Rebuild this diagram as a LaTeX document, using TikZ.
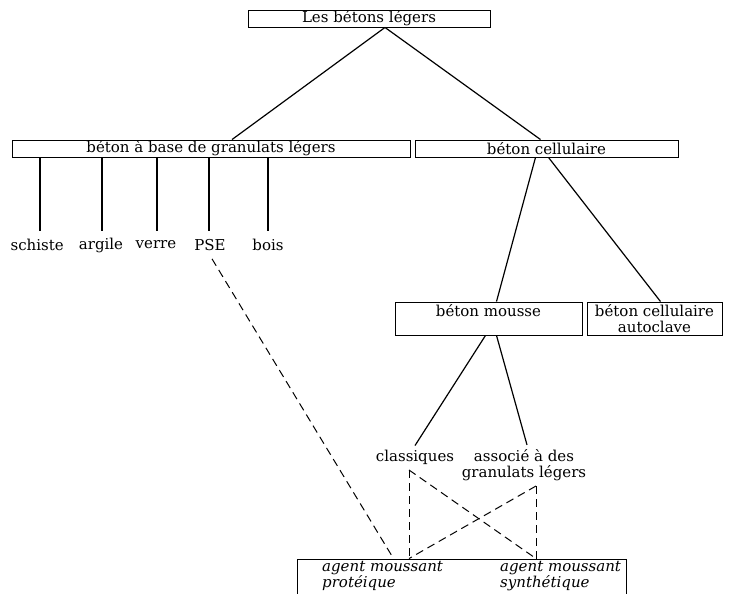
\documentclass[tikz,border=0pt]{standalone}
\usepackage{fontspec}
\setmainfont{DejaVu Serif}
\usetikzlibrary{calc}
\begin{document}
\begin{tikzpicture}[x=1pt,y=-1pt,
  box/.style={draw,line width=0.9pt,inner sep=0pt,font=\fontsize{15}{17}\selectfont},
  lbl/.style={inner sep=0pt,font=\fontsize{15}{16.5}\selectfont,align=center},
  itl/.style={inner sep=0pt,font=\fontsize{15}{16}\selectfont\itshape,align=left,anchor=north west},
  link/.style={line width=1.2pt},
  dlink/.style={line width=1pt,dash pattern=on 8pt off 5pt}]
\useasboundingbox (0,0) rectangle (729,594);
% boxes
\node[box,minimum width=242pt,minimum height=17pt] (top) at (369,18.5) {Les bétons légers};
\node[box,minimum width=398pt,minimum height=17pt] (gran) at (211,148.5) {béton à base de granulats légers};
\node[box,minimum width=263pt,minimum height=17pt] (cell) at (546.5,148.5) {béton cellulaire};
\node[box,minimum width=187pt,minimum height=33pt,
  label={[lbl,anchor=north,yshift=-3pt]north:béton mousse}] (mousse) at (488.5,318.5) {};
\node[box,minimum width=135pt,minimum height=33pt,align=center,
  font=\fontsize{15}{15.5}\selectfont] (autoc) at (654.5,318.5) {béton cellulaire\\autoclave};
\node[box,minimum width=329pt,minimum height=41pt] (agent) at (461.5,579.5) {};
\node[itl] (prot) at (322,561) {agent moussant\\protéique};
\node[itl] (synt) at (500,561) {agent moussant\\synthétique};
% leaves
\node[lbl,anchor=east] (schiste) at (64,245) {schiste};
\node[lbl] (argile) at (101,245) {argile};
\node[lbl] (verre) at (156,245) {verre};
\node[lbl] (pse) at (210,245) {PSE};
\node[lbl] (bois) at (268,245) {bois};
\node[lbl] (class) at (415,457) {classiques};
\node[lbl] (assoc) at (524,465) {associé à des\\granulats légers};
% connectors top
\draw[link] ($(top.south)+(16,0)$) -- ($(gran.north)+(21,0)$);
\draw[link] ($(top.south)+(16,0)$) -- ($(cell.north)+(-6,0)$);
\foreach \x in {40,102,157,209,268}{
  \draw[link] (\x,157) -- (\x,231);
}
\draw[link] ($(cell.south)+(-11,0)$) -- ($(mousse.north)+(8,0)$);
\draw[link] ($(cell.south)+(2,0)$) -- ($(autoc.north)+(6,0)$);
\draw[link] ($(mousse.south)+(-3,0)$) -- ($(class.north)+(0,-4)$);
\draw[link] ($(mousse.south)+(8,0)$) -- ($(assoc.north)+(3,-4)$);
% dashed
\coordinate (c1) at (409,470);
\coordinate (c2) at (536,486);
\draw[dlink] ($(pse.south)+(2,8)$) -- ($(agent.north)+(-68,0)$);
\draw[dlink] (c1) -- (c1 |- agent.north);
\draw[dlink] (c1) -- (c2 |- agent.north);
\draw[dlink] (c2) -- (c2 |- agent.north);
\draw[dlink] (c2) -- (c1 |- agent.north);
\end{tikzpicture}
\end{document}
